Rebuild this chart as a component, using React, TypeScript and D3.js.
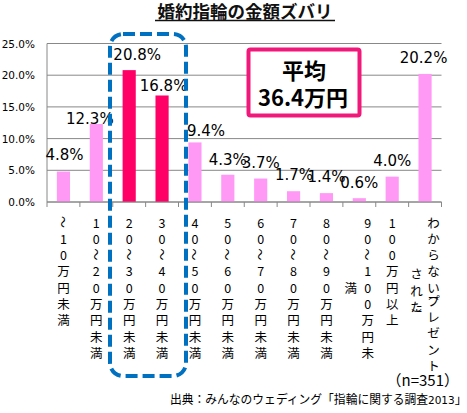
import React from "react";
import * as d3 from "d3";

// chart data
const categories = [
  "〜10万円未満",
  "10〜20万円未満",
  "20〜30万円未満",
  "30〜40万円未満",
  "40〜50万円未満",
  "50〜60万円未満",
  "60〜70万円未満",
  "70〜80万円未満",
  "80〜90万円未満",
  "90〜100万円未\n満",
  "100万円以上",
  "わからない︵プレゼント\nされた︶",
];
const values = [4.8, 12.3, 20.8, 16.8, 9.4, 4.3, 3.7, 1.7, 1.4, 0.6, 4.0, 20.2];
const highlighted = ["20〜30万円未満", "30〜40万円未満"];
const yTicks = [0, 5, 10, 15, 20, 25];

const title = "婚約指輪の金額ズバリ";
const averageLines = ["平均", "36.4万円"];
const sampleNote = "（n=351）";
const sourceNote = "出典：みんなのウェディング「指輪に関する調査";
const sourceYear = "2013";

// manual label nudges (dx, dy from bar top), like the hand-placed Excel labels
const labelNudge: [number, number][] = [
  [1, -12], [-6.5, 0], [8, -10], [1.5, -4], [11, -6], [0, -10],
  [0, -11], [0.5, -11], [0, -11], [0, -10], [0, -11], [-1.5, -11],
];

const W = 467;
const H = 413;
const plot = { left: 47, right: 441.5, top: 43.5, bottom: 202 };

const jp = "'Noto Sans CJK JP', 'Noto Sans', sans-serif";
const num = "'DejaVu Sans', Verdana, sans-serif";

const PINK = "#ff99f5";
const RED = "#ff0066";

const x = d3
  .scaleBand<string>()
  .domain(categories)
  .range([plot.left, plot.right])
  .paddingInner(0.6)
  .paddingOuter(0.3);

const xSlots = d3.scaleBand<string>().domain(categories).range([plot.left, plot.right]);

const y = d3.scaleLinear().domain([0, 25]).range([plot.bottom, plot.top]);

const fmt = (v: number) => `${v.toFixed(1)}%`;

const CHAR_STEP = 16.3;
const COL_GAP = 17;
const LABEL_TOP = 222;

const isBracket = (ch: string) => ch === "︵" || ch === "︶";

// vertical distance from previous char to this one
function charStep(ch: string, prev: string) {
  if (isBracket(ch)) return 7;
  if (isBracket(prev)) return 6;
  return CHAR_STEP;
}

function VerticalLabel({ text, cx }: { text: string; cx: number }) {
  const lines = text.split("\n");
  const heights = lines.map((l) => {
    const chars = Array.from(l);
    return chars.reduce((s, c, i) => s + (i === 0 ? 0 : charStep(c, chars[i - 1])), 0);
  });
  const mainMid = LABEL_TOP + heights[0] / 2;
  const n = lines.length;
  return (
    <g>
      {lines.map((line, li) => {
        const colX = cx + ((n - 1) * COL_GAP) / 2 - li * COL_GAP;
        const chars = Array.from(line);
        let yy = li === 0 ? LABEL_TOP : mainMid - heights[li] / 2;
        return chars.map((ch, ci) => {
          if (ci > 0) yy += charStep(ch, chars[ci - 1]);
          const cy = yy;
          const rotate = ch === "〜" ? `rotate(90 ${colX} ${cy})` : undefined;
          return (
            <text
              key={`${li}-${ci}`}
              x={colX}
              y={cy}
              transform={rotate}
              textAnchor="middle"
              dominantBaseline="central"
              fontFamily={jp}
              fontSize={isBracket(ch) ? 10 : ch === "〜" ? 12 : 12.5}
              fill="#000"
            >
              {ch}
            </text>
          );
        });
      })}
    </g>
  );
}

export default function App() {
  const boundaries = [...categories.map((c) => xSlots(c) as number), plot.right];

  return (
    <div style={{ position: "fixed", left: 0, top: 0 }}>
      <svg width={W} height={H} style={{ display: "block", background: "#fff" }}>
        {/* title */}
        <text
          x={245}
          y={18}
          textAnchor="middle"
          fontFamily={jp}
          fontSize={17.5}
          fontWeight={700}
          fill="#111"
        >
          {title}
        </text>
        <line x1={155} x2={335} y1={20.5} y2={20.5} stroke="#111" strokeWidth={1.3} />

        {/* grid */}
        {yTicks.map((t) => (
          <g key={t}>
            <line
              x1={plot.left}
              x2={plot.right}
              y1={y(t)}
              y2={y(t)}
              stroke="#888"
              strokeWidth={1}
            />
            <text
              x={35}
              y={y(t)}
              textAnchor="end"
              dominantBaseline="central"
              fontFamily={num}
              fontSize={10.5}
              fill="#000"
            >
              {fmt(t)}
            </text>
          </g>
        ))}
        <line x1={plot.left} x2={plot.left} y1={plot.top} y2={plot.bottom} stroke="#888" />
        {boundaries.map((b, i) => (
          <line
            key={i}
            x1={b}
            x2={b}
            y1={plot.bottom}
            y2={plot.bottom + 5}
            stroke="#888"
          />
        ))}

        {/* bars */}
        {categories.map((c, i) => (
          <rect
            key={c}
            x={x(c)}
            y={y(values[i])}
            width={x.bandwidth()}
            height={y(0) - y(values[i])}
            fill={highlighted.includes(c) ? RED : PINK}
          />
        ))}
        <line x1={plot.left} x2={plot.right} y1={plot.bottom} y2={plot.bottom} stroke="#888" />

        {/* value labels */}
        {categories.map((c, i) => (
          <text
            key={c}
            x={(x(c) as number) + x.bandwidth() / 2 + labelNudge[i][0]}
            y={y(values[i]) + labelNudge[i][1]}
            textAnchor="middle"
            fontFamily={num}
            fontSize={15}
            fill="#000"
          >
            {fmt(values[i])}
          </text>
        ))}

        {/* category labels */}
        {categories.map((c) => (
          <VerticalLabel key={c} text={c} cx={(x(c) as number) + x.bandwidth() / 2} />
        ))}

        {/* highlight box */}
        <rect
          x={110}
          y={34}
          width={76}
          height={342}
          rx={13}
          fill="none"
          stroke="#0070c0"
          strokeWidth={4}
          strokeDasharray="12 5"
        />

        {/* average box */}
        <rect
          x={248.5}
          y={49.5}
          width={111}
          height={66}
          rx={2}
          fill="#fff"
          stroke="#f0187a"
          strokeWidth={4}
        />
        <text
          x={304}
          y={79}
          textAnchor="middle"
          fontFamily={jp}
          fontSize={22}
          fontWeight={700}
          fill="#000"
        >
          {averageLines[0]}
        </text>
        <text
          x={303}
          y={106}
          textAnchor="middle"
          fontFamily={jp}
          fontSize={22}
          fontWeight={700}
          fill="#000"
        >
          {averageLines[1]}
        </text>

        {/* notes */}
        <text x={459} y={386} textAnchor="end" fontFamily={jp} fontSize={15} fill="#000">
          {sampleNote}
        </text>
        <text x={170} y={404} fontFamily={jp} fontSize={12.5} fill="#000">
          <tspan textLength={258} lengthAdjust="spacingAndGlyphs">
            {sourceNote}
          </tspan>
          <tspan fontFamily={num} fontSize={10.5}>
            {sourceYear}
          </tspan>
          <tspan>」</tspan>
        </text>
      </svg>
    </div>
  );
}
